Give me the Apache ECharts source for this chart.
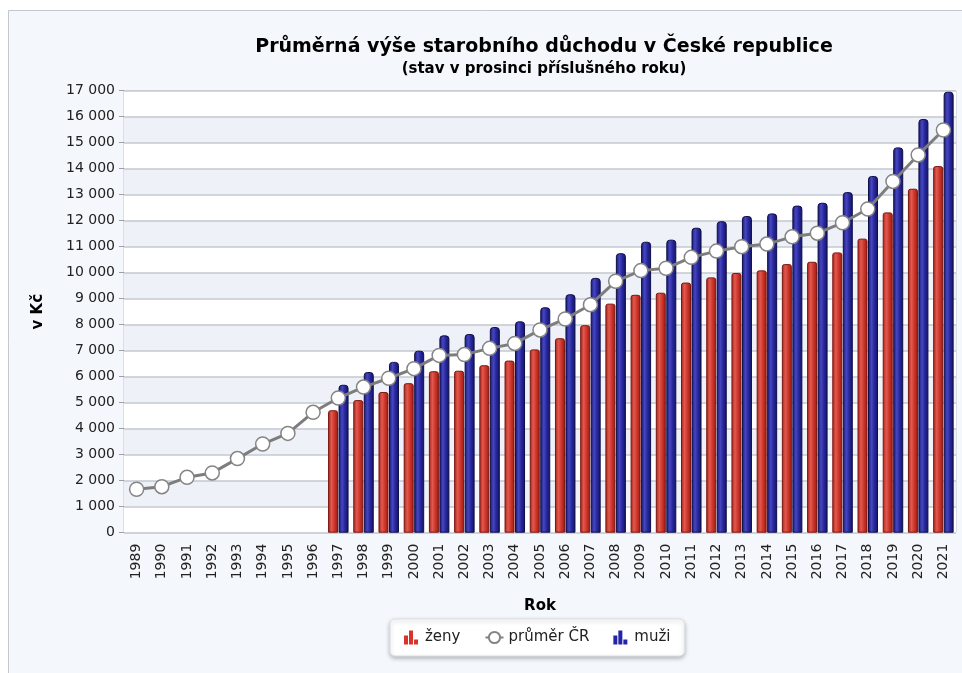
<!DOCTYPE html>
<html>
<head>
<meta charset="utf-8">
<script src="https://cdn.jsdelivr.net/npm/echarts@6/dist/echarts.min.js"></script>
<style>
  html, body { margin: 0; padding: 0; background: #fff; }
  #chart { width: 962px; height: 673px; }
</style>
</head>
<body>
<div id="chart"></div>
<script>
const years = ['1989', '1990', '1991', '1992', '1993', '1994', '1995', '1996', '1997', '1998',
  '1999', '2000', '2001', '2002', '2003', '2004', '2005', '2006', '2007', '2008', '2009',
  '2010', '2011', '2012', '2013', '2014', '2015', '2016', '2017', '2018', '2019', '2020', '2021']

const average = [1670, 1770, 2130, 2300, 2850, 3410, 3820, 4630, 5180, 5600,
  5940, 6310, 6820, 6850, 7090, 7280, 7800, 8220, 8770, 9670, 10080,
  10170, 10590, 10830, 11000, 11100, 11380, 11520, 11920, 12450, 13510, 14530, 15490]

const women = [null, null, null, null, null, null, null, null, 4710, 5100,
  5410, 5750, 6210, 6230, 6440, 6620, 7050, 7480, 7980, 8810, 9150,
  9230, 9620, 9820, 9990, 10090, 10330, 10420, 10780, 11310, 12320, 13230, 14100]

const men = [null, null, null, null, null, null, null, null, 5690, 6180,
  6570, 7000, 7590, 7640, 7910, 8130, 8670, 9170, 9800, 10750, 11190,
  11270, 11730, 11980, 12180, 12280, 12580, 12690, 13100, 13720, 14820, 15910, 16960]

const FONT = '"DejaVu Sans", Verdana, sans-serif'
const barIcon = 'path://M0,5H4V14H0Z M5,0H9V14H5Z M10,9H14V14H10Z'

function fmt(v) {
  return String(v).replace(/\B(?=(\d{3})+(?!\d))/g, ' ')
}

function barGradient(stops) {
  return new echarts.graphic.LinearGradient(0, 0, 1, 0, stops)
}

const chart = echarts.init(document.getElementById('chart'))

chart.setOption({
  animation: false,
  backgroundColor: '#fff',
  textStyle: { fontFamily: FONT },
  graphic: [
    {
      type: 'rect',
      z: -10,
      shape: { x: 8.5, y: 10.5, width: 970, height: 680 },
      style: { fill: '#f4f7fb', stroke: '#c4c8ce', lineWidth: 1 }
    }
  ],
  title: {
    text: 'Průměrná výše starobního důchodu v České republice',
    subtext: '(stav v prosinci příslušného roku)',
    left: 539,
    top: 33,
    textAlign: 'center',
    itemGap: 5,
    textStyle: { fontFamily: FONT, fontSize: 19, fontWeight: 'bold', color: '#000' },
    subtextStyle: { fontFamily: FONT, fontSize: 15, fontWeight: 'bold', color: '#000' }
  },
  legend: {
    bottom: 17,
    left: 390,
    itemGap: 24,
    itemWidth: 18,
    itemHeight: 14,
    padding: [11, 14],
    backgroundColor: '#fff',
    borderColor: '#dcdfe4',
    borderWidth: 1,
    borderRadius: 5,
    shadowBlur: 4,
    shadowColor: 'rgba(0,0,0,0.25)',
    shadowOffsetY: 2,
    textStyle: { fontFamily: FONT, fontSize: 15, color: '#222' },
    data: [
      { name: 'ženy', icon: barIcon, itemStyle: { color: '#d8342b', borderWidth: 0 } },
      { name: 'průměr ČR' },
      { name: 'muži', icon: barIcon, itemStyle: { color: '#2424a8', borderWidth: 0 } }
    ]
  },
  grid: {
    left: 124,
    right: 6,
    top: 90.7,
    bottom: 140.3,
    show: true,
    borderColor: '#c2c6cc',
    borderWidth: 1
  },
  xAxis: {
    type: 'category',
    data: years,
    name: 'Rok',
    nameLocation: 'middle',
    nameGap: 66,
    nameTextStyle: { fontFamily: FONT, fontSize: 15, fontWeight: 'bold', color: '#000' },
    axisLine: { show: false },
    axisTick: { show: false },
    axisLabel: { rotate: 90, fontSize: 14, color: '#222', margin: 11, fontFamily: FONT }
  },
  yAxis: {
    type: 'value',
    min: 0,
    max: 17000,
    interval: 1000,
    name: 'v Kč',
    nameLocation: 'middle',
    nameGap: 78,
    nameRotate: 90,
    nameTextStyle: { fontFamily: FONT, fontSize: 15, fontWeight: 'bold', color: '#000' },
    axisLine: { show: false },
    axisTick: { show: true, length: 5, lineStyle: { color: '#9aa0a8' } },
    axisLabel: { fontSize: 14, color: '#222', margin: 9, formatter: fmt, fontFamily: FONT },
    splitLine: { lineStyle: { color: '#c4c8cf', width: 1.5 } },
    splitArea: { show: true, areaStyle: { color: ['#ffffff', '#eef2f8'] } }
  },
  series: [
    {
      name: 'ženy',
      type: 'bar',
      data: women,
      barWidth: 10,
      barGap: '5%',
      itemStyle: {
        color: barGradient([
          { offset: 0, color: '#a3221a' },
          { offset: 0.35, color: '#e2594e' },
          { offset: 0.65, color: '#cc3429' },
          { offset: 1, color: '#951b14' }
        ]),
        borderColor: '#7c1610',
        borderWidth: 1,
        borderRadius: [2, 2, 0, 0]
      }
    },
    {
      name: 'muži',
      type: 'bar',
      data: men,
      barWidth: 10,
      itemStyle: {
        color: barGradient([
          { offset: 0, color: '#16166a' },
          { offset: 0.35, color: '#4646c2' },
          { offset: 0.65, color: '#26269a' },
          { offset: 1, color: '#14145c' }
        ]),
        borderColor: '#0e0e48',
        borderWidth: 1,
        borderRadius: [3, 3, 0, 0]
      }
    },
    {
      name: 'průměr ČR',
      type: 'line',
      data: average,
      z: 5,
      symbol: 'circle',
      symbolSize: 14,
      lineStyle: { color: '#7d7d7d', width: 3 },
      itemStyle: { color: '#ffffff', borderColor: '#858585', borderWidth: 1.5 }
    }
  ]
})
</script>
</body>
</html>
